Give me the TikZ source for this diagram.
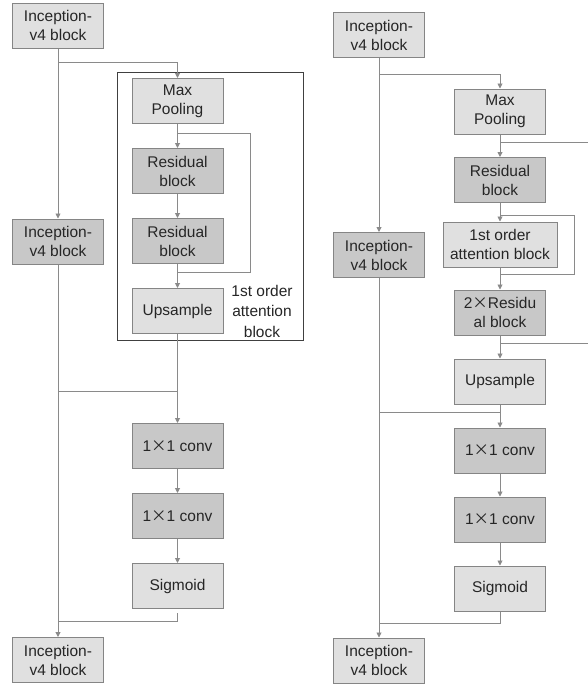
\documentclass[tikz,border=0pt]{standalone}
\usepackage{fontspec}
\setmainfont{Liberation Sans}
\newfontfamily\cjk{Noto Sans CJK SC}
\usepackage{tikz}
\usetikzlibrary{arrows.meta,positioning}
\definecolor{lightfill}{HTML}{E0E0E0}
\definecolor{darkfill}{HTML}{C8C8C8}
\definecolor{edge}{HTML}{858585}
\definecolor{wire}{HTML}{8A8A8A}
\definecolor{ink}{HTML}{262626}
\newcommand{\bytimes}{{\cjk ×}}

\begin{document}
\begin{tikzpicture}[x=1pt,y=-1pt,
  lightbox/.style={draw=edge,line width=1pt,fill=lightfill,text=ink,align=center,
    minimum width=91pt,minimum height=45pt,inner sep=1pt,font=\fontsize{15.5}{19}\selectfont},
  darkbox/.style={lightbox,fill=darkfill},
  link/.style={draw=wire,line width=0.9pt},
  arr/.style={link,-{Triangle[length=5pt,width=5pt]}}]
  \useasboundingbox[fill=white] (0,0) rectangle (588,686);

  % left: inception with 1st order attention block
  \node[lightbox] (la) at (58,25.5) {Inception-\\v4 block};
  \node[darkbox] (lb) at (58,241.5) {Inception-\\v4 block};
  \node[lightbox] (lc) at (58,660) {Inception-\\v4 block};
  \node[lightbox] (lpool) at (177.5,101) {Max\\Pooling};
  \node[darkbox] (lres1) at (177.5,171) {Residual\\block};
  \node[darkbox] (lres2) at (177.5,241) {Residual\\block};
  \node[lightbox] (lup) at (177.5,311) {Upsample};
  \node[darkbox] (lconv1) at (177.5,446) {1\bytimes1 conv};
  \node[darkbox] (lconv2) at (177.5,516) {1\bytimes1 conv};
  \node[lightbox] (lsig) at (177.5,586) {Sigmoid};
  \draw[line width=1pt,black!75] (117,72) rectangle (303,340);
  \node[text=ink,align=center,font=\fontsize{15.5}{20.5}\selectfont] (lattn) at (262,311) {1st order\\attention\\block};

  \coordinate (lsplit) at (58,62);
  \coordinate (lskip) at (177.5,133);
  \coordinate (ljoin) at (177.5,272);
  \coordinate (lmerge) at (177.5,391);
  \coordinate (lout) at (177.5,621);
  \draw[arr] (la) -- (lb);
  \draw[arr] (lsplit) -| (lpool);
  \draw[arr] (lpool) -- (lres1);
  \draw[arr] (lres1) -- (lres2);
  \draw[arr] (lres2) -- (lup);
  \draw[link] (lskip) -- (250,133) |- (ljoin);
  \draw[arr] (lb) -- (lc);
  \draw[link] (lmerge) -- (58,391);
  \draw[arr] (lup) -- (lconv1);
  \draw[arr] (lconv1) -- (lconv2);
  \draw[arr] (lconv2) -- (lsig);
  \draw[link] ([yshift=-4pt]lsig.south) -- (lout) -- (58,621);

  % right: nested attention blocks
  \node[lightbox] (ra) at (379,35) {Inception-\\v4 block};
  \node[darkbox] (rb) at (379,255) {Inception-\\v4 block};
  \node[lightbox] (rc) at (379,660.5) {Inception-\\v4 block};
  \node[lightbox] (rpool) at (500,111.5) {Max\\Pooling};
  \node[darkbox] (rres) at (500,180) {Residual\\block};
  \node[lightbox,minimum width=114pt] (rattn) at (500,244.5) {1st order\\attention block};
  \node[darkbox] (rres2) at (500,312.5) {2\bytimes Residu\\al block};
  \node[lightbox] (rup) at (500,381.5) {Upsample};
  \node[darkbox] (rconv1) at (500,450.5) {1\bytimes1 conv};
  \node[darkbox] (rconv2) at (500,519.5) {1\bytimes1 conv};
  \node[lightbox] (rsig) at (500,588.5) {Sigmoid};

  \coordinate (rsplit) at (379,74);
  \coordinate (rskipa) at (500,142);
  \coordinate (rskipb) at (500,215);
  \coordinate (rjoinb) at (500,274);
  \coordinate (rjoina) at (500,343);
  \coordinate (rmerge) at (500,412);
  \coordinate (rout) at (500,623);
  \draw[arr] (ra) -- (rb);
  \draw[arr] (rsplit) -| (rpool);
  \draw[arr] (rpool) -- (rres);
  \draw[link] (rskipa) -- (588,142);
  \draw[arr] (rres) -- (rattn);
  \draw[link] (rskipb) -- (574,215) |- (rjoinb);
  \draw[arr] (rattn) -- (rres2);
  \draw[link] (rjoina) -- (588,343);
  \draw[arr] (rres2) -- (rup);
  \draw[arr] (rb) -- (rc);
  \draw[link] (rmerge) -- (379,412);
  \draw[arr] (rup) -- (rconv1);
  \draw[arr] (rconv1) -- (rconv2);
  \draw[arr] (rconv2) -- (rsig);
  \draw[link] (rsig) -- (rout) -- (379,623);
\end{tikzpicture}
\end{document}
